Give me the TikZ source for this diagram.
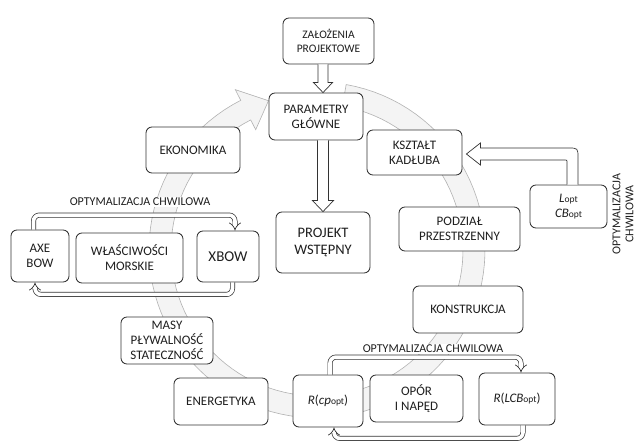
\documentclass[tikz,border=0pt]{standalone}
\usepackage{fontspec}
\setmainfont{Carlito}
\usetikzlibrary{arrows.meta,calc}
\begin{document}
\begin{tikzpicture}[x=1pt,y=-1pt,
  box/.style={draw=black!80, line width=0.85pt, fill=white, rounded corners=6pt, text=black!88, align=center, inner sep=2pt, font=\fontsize{13}{15}\selectfont},
  optloop/.style={draw=black!80, line width=0.7pt, double=white, double distance=3.6pt, rounded corners=6pt, -{Implies[scale=1.2]}},
  looplbl/.style={fill=white, inner sep=1pt, text=black!88, font=\fontsize{12}{13}\selectfont},
  hollow/.style={draw=black!80, line width=0.7pt, fill=white, line join=miter},
]
\useasboundingbox (0,0) rectangle (635,441);
% ring arrow
\draw[fill=gray!9, draw=gray!60, line width=0.6pt]
  plot[domain=-80:243, samples=100] ({317+168*cos(\x)},{250+168*sin(\x)})
  -- ({317+180*cos(243)},{250+180*sin(243)})
  -- ({317+157*cos(252)},{250+157*sin(252)})
  -- ({317+135*cos(243)},{250+135*sin(243)})
  -- plot[domain=243:-80, samples=100] ({317+146*cos(\x)},{250+146*sin(\x)})
  -- cycle;
% nodes
\node[box, minimum width=91pt, minimum height=46pt, font=\fontsize{11.5}{14}\selectfont] (zal) at (328.5,41) {ZAŁOŻENIA\\PROJEKTOWE};
\node[box, minimum width=94pt, minimum height=47pt] (par) at (316,116.5) {PARAMETRY\\GŁÓWNE};
\node[box, minimum width=94pt, minimum height=61pt, font=\fontsize{14.5}{17}\selectfont] (proj) at (323,242.5) {PROJEKT\\WSTĘPNY};
\node[box, minimum width=95pt, minimum height=45pt] (ksz) at (414.5,152.5) {KSZTAŁT\\KADŁUBA};
\node[box, minimum width=77pt, minimum height=43pt] (lopt) at (568.5,206.5) {\textit{L}{\fontsize{9.5}{10}\selectfont opt}\\\textit{CB}{\fontsize{9.5}{10}\selectfont opt}};
\node[box, minimum width=121pt, minimum height=44pt] (podz) at (459.5,229) {PODZIAŁ\\PRZESTRZENNY};
\node[box, minimum width=110pt, minimum height=47pt] (kons) at (468,309.5) {KONSTRUKCJA};
\node[box, minimum width=70pt, minimum height=52pt] (rcp) at (328,401) {\textit{R}(\textit{cp}{\fontsize{9.5}{10}\selectfont opt})};
\node[box, minimum width=93pt, minimum height=47pt] (opor) at (416.5,398.5) {OPÓR\\I NAPĘD};
\node[box, minimum width=76pt, minimum height=52pt] (rlcb) at (517,399) {\textit{R}(\textit{LCB}{\fontsize{9.5}{10}\selectfont opt})};
\node[box, minimum width=94pt, minimum height=47pt] (ener) at (221,401.5) {ENERGETYKA};
\node[box, minimum width=92pt, minimum height=47pt] (masy) at (167,340.5) {MASY\\PŁYWALNOŚĆ\\STATECZNOŚĆ};
\node[box, minimum width=58pt, minimum height=52pt] (axe) at (40,256) {AXE\\BOW};
\node[box, minimum width=107pt, minimum height=50pt] (wlas) at (129.5,258) {WŁAŚCIWOŚCI\\MORSKIE};
\node[box, minimum width=62pt, minimum height=51pt, font=\fontsize{15}{17}\selectfont] (xbow) at (228,256.5) {XBOW};
\node[box, minimum width=94pt, minimum height=46pt] (ekon) at (193,150) {EKONOMIKA};
% hollow arrows
\coordinate (ax) at (323,0);
\draw[hollow] ($(zal.south -| ax)+(-5,0)$) -- ($(par.north -| ax)+(-5,-10)$) -- ++(-4.5,0)
  -- (par.north -| ax) -- ($(par.north -| ax)+(9.5,-10)$) -- ++(-4.5,0) -- ($(zal.south -| ax)+(5,0)$);
\draw[hollow] ($(par.south -| ax)+(-5.5,0)$) -- ($(proj.north -| ax)+(-5.5,-11)$) -- ++(-5,0)
  -- (proj.north -| ax) -- ($(proj.north -| ax)+(10.5,-11)$) -- ++(-5,0) -- ($(par.south -| ax)+(5.5,0)$);
\coordinate (lv) at (572.5,154);
\coordinate (A) at (lopt.north -| lv);
\coordinate (T) at (ksz.east |- lv);
\draw[hollow] ($(A)+(5.5,0)$) -- ($(lv)+(5.5,4)$) .. controls ($(lv)+(5.5,-6)$) .. ($(lv)+(-4.5,-6)$)
  -- ($(T)+(18,-6)$) -- ($(T)+(18,-11)$) -- ($(T)+(4,0)$) -- ($(T)+(18,11)$) -- ($(T)+(18,6)$)
  -- ($(lv)+(-7.5,6)$) .. controls ($(lv)+(-5.5,6)$) .. ($(lv)+(-5.5,8)$) -- ($(A)+(-5.5,0)$);
% optimization loops
\draw[optloop] ([xshift=-6.5pt]axe.north) -- ++(0,-14.5) -| ([xshift=7pt]xbow.north);
\draw[optloop] ([xshift=4.5pt]xbow.south) -- ++(0,12) -| ([xshift=-5pt]axe.south);
\draw[optloop] ([xshift=2pt]rcp.north) -- ++(0,-17.5) -| ([xshift=4pt]rlcb.north);
\draw[optloop] ([xshift=6pt]rlcb.south) -- ++(0,13) -| ([xshift=6pt]rcp.south);
% labels
\node[looplbl] (l1) at (140,202) {OPTYMALIZACJA CHWILOWA};
\node[looplbl] (l2) at (433,349) {OPTYMALIZACJA CHWILOWA};
\node[looplbl, fill=none, rotate=90, align=center, inner sep=0pt] (l3) at (623,214) {OPTYMALIZACJA\\CHWILOWA};
\end{tikzpicture}
\end{document}
